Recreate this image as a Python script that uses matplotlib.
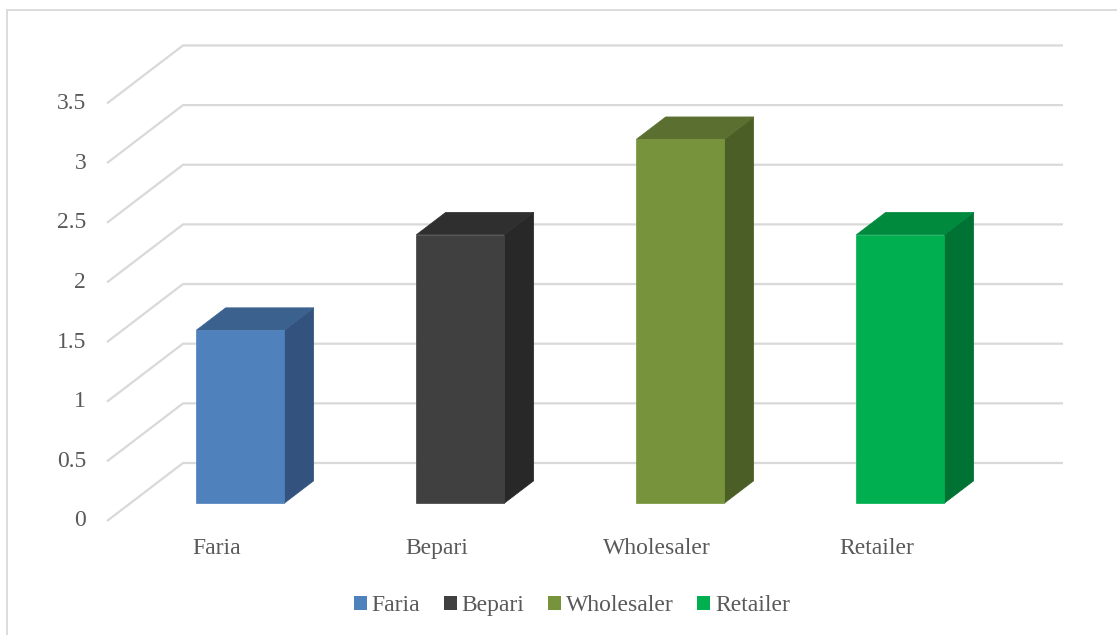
import matplotlib
matplotlib.use("Agg")
import matplotlib.pyplot as plt
from matplotlib.patches import Polygon, Patch, Rectangle

# data
categories = ["Faria", "Bepari", "Wholesaler", "Retailer"]
values = [1.45, 2.25, 3.05, 2.25]
ticks = [0, 0.5, 1, 1.5, 2, 2.5, 3, 3.5]
tick_labels = ["0", "0.5", "1", "1.5", "2", "2.5", "3", "3.5"]

front_colors = ["#4f81bd", "#404040", "#77933c", "#00b050"]
top_colors = ["#3b628f", "#2f2f2f", "#5b7030", "#008a3d"]
side_colors = ["#33537e", "#282828", "#4b5e26", "#007233"]

plt.rcParams["font.family"] = ["Liberation Serif", "DejaVu Serif"]
text_color = "#595959"
grid_color = "#d9d9d9"

W, H, DPI = 1117, 635, 100
fig = plt.figure(figsize=(W / DPI, H / DPI), dpi=DPI)
ax = fig.add_axes([0, 0, 1, 1])
ax.axis("off")

# scale: one category = 220 px, one unit of value = 119.3 px
cat_px, val_px = 220.0, 119.3
x0_px, y0_px = 107.0, 521.0
ax.set_xlim(-x0_px / cat_px, (W - x0_px) / cat_px)
ax.set_ylim(-(H - y0_px) / val_px, y0_px / val_px)

# oblique depth vector (full depth) in data units
ddx = 76.0 / cat_px
ddv = 58.0 / val_px


def P(x, v, d):
    return (x + d * ddx, v + d * ddv)


n = len(categories)

# gridlines: diagonal on left side wall + horizontal on back wall
for v in ticks:
    pts = [P(0, v, 0), P(0, v, 1), P(n, v, 1)]
    ax.plot([p[0] for p in pts], [p[1] for p in pts], color=grid_color,
            lw=1.6, solid_capstyle="butt", zorder=1)

# tick labels
for v, lab in zip(ticks, tick_labels):
    ax.annotate(lab, P(0, v, 0), xytext=(-15, 0), textcoords="offset points",
                ha="right", va="center", fontsize=17, color=text_color)

# bars
half_w = 0.2
d0, d1 = 0.307, 0.693
for i, (h, fc, tc, sc) in enumerate(zip(values, front_colors, top_colors, side_colors)):
    xl, xr = i + 0.5 - half_w, i + 0.5 + half_w
    front = [P(xl, 0, d0), P(xr, 0, d0), P(xr, h, d0), P(xl, h, d0)]
    top = [P(xl, h, d0), P(xr, h, d0), P(xr, h, d1), P(xl, h, d1)]
    side = [P(xr, 0, d0), P(xr, 0, d1), P(xr, h, d1), P(xr, h, d0)]
    ax.add_patch(Polygon(side, closed=True, facecolor=sc, edgecolor=sc, lw=0.5, zorder=3))
    ax.add_patch(Polygon(top, closed=True, facecolor=tc, edgecolor=tc, lw=0.5, zorder=3))
    ax.add_patch(Polygon(front, closed=True, facecolor=fc, edgecolor=fc, lw=0.5, zorder=4))

# category labels
for i, cat in enumerate(categories):
    ax.annotate(cat, P(i + 0.5, 0, 0), xytext=(0, -20), textcoords="offset points",
                ha="center", va="center", fontsize=17, color=text_color)

# legend
handles = [Patch(facecolor=c, edgecolor="none") for c in front_colors]
fig.legend(handles, categories, loc="center", bbox_to_anchor=(0.512, 0.046),
           ncol=4, frameon=False, fontsize=17, labelcolor=text_color,
           handlelength=0.55, handleheight=0.55, handletextpad=0.2,
           columnspacing=1.0)

# chart area border
fig.patches.append(Rectangle((7 / W, -0.05), 1.1, 1.05 - 10 / H,
                             transform=fig.transFigure, fill=False,
                             edgecolor=grid_color, lw=1.3))

fig.savefig("out.png", dpi=DPI)
